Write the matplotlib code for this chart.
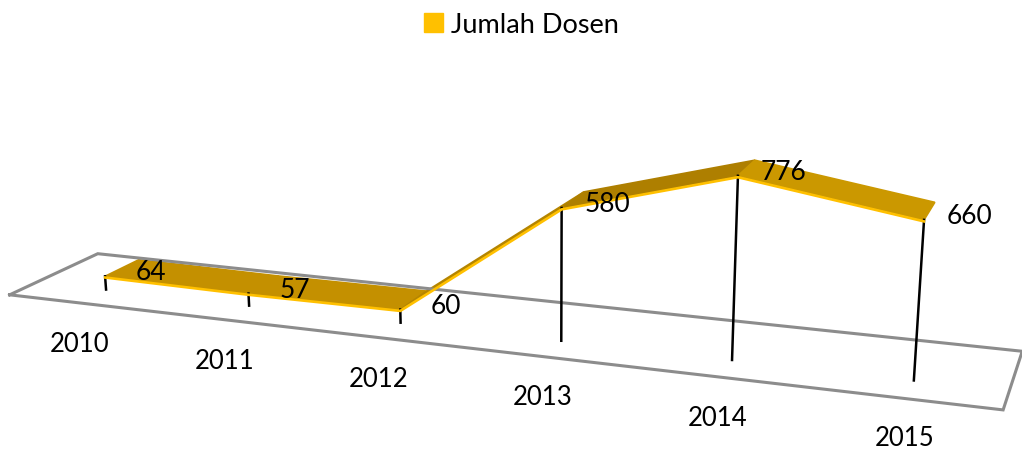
import numpy as np
import matplotlib
matplotlib.use("Agg")
import matplotlib.pyplot as plt
from matplotlib.patches import Patch

years = ['2010', '2011', '2012', '2013', '2014', '2015']
jumlah_dosen = [64, 57, 60, 580, 776, 660]
series_name = 'Jumlah Dosen'

# warna tiap segmen pita (tergantung arah permukaan)
seg_colors = ['#C49000', '#C49000', '#B58500', '#AE7F00', '#CB9800']
front_color = '#FFC000'
floor_color = '#8C8C8C'

plt.rcParams['font.family'] = ['Lato', 'DejaVu Sans']

u_pos = (np.arange(len(years)) + 0.5) / len(years)
d_front = 0.3
d_back = 0.7

# titik acuan kamera: (u, d, nilai) -> piksel pada gambar
cam_world = [(0, 0, 0), (0, 1, 0), (1, 1, 0), (1, 0, 0)]
cam_px = [(10, 295), (98, 255), (1022, 352), (1003, 410)]
base_px = [(106, 292), (248, 307), (400, 324), (562, 342), (732, 362), (914, 382)]
top_px = [(106, 277), (248, 295), (400, 310), (562, 208), (738, 177), (924, 221)]
back_px = [(138, 260), (None, None), (428, 291), (583, 193), (755, 162), (935, 203)]
# posisi teks tahun, piksel
year_label_px = [(80, 345), (225, 362), (379, 380), (543, 398), (718, 419), (905, 439)]
for i, y in enumerate(jumlah_dosen):
    cam_world.append((u_pos[i], d_front, 0))
    cam_px.append(base_px[i])
    cam_world.append((u_pos[i], d_front, y))
    cam_px.append(top_px[i])
    if back_px[i][0] is not None:
        cam_world.append((u_pos[i], d_back, y))
        cam_px.append(back_px[i])

A = []
b = []
for (u, d, v), (px, py) in zip(cam_world, cam_px):
    v = v / 1000
    A.append([u, d, v, 1, 0, 0, 0, 0, -px * u, -px * d, -px * v])
    b.append(px)
    A.append([0, 0, 0, 0, u, d, v, 1, -py * u, -py * d, -py * v])
    b.append(py)
p = np.linalg.lstsq(np.array(A), np.array(b, dtype=float), rcond=None)[0]


def project(u, d, v):
    v = v / 1000
    w = p[8] * u + p[9] * d + p[10] * v + 1
    return (p[0] * u + p[1] * d + p[2] * v + p[3]) / w, (p[4] * u + p[5] * d + p[6] * v + p[7]) / w


fig = plt.figure(figsize=(10.22, 4.52), dpi=100)
ax = fig.add_axes([0, 0, 1, 1])
ax.set_xlim(0, 1022)
ax.set_ylim(452, 0)
ax.axis('off')

# lantai
corners = [project(u, d, 0) for u, d in [(0, 0), (0, 1), (1, 1), (1, 0), (0, 0)]]
ax.plot([c[0] for c in corners], [c[1] for c in corners], color=floor_color, lw=2.2, solid_joinstyle='miter')

# garis jatuh
for u, y in zip(u_pos, jumlah_dosen):
    x0, y0 = project(u, d_front, 0)
    x1, y1 = project(u, d_front, y)
    ax.plot([x0, x1], [y0, y1], color='black', lw=1.8)

# pita
for i in range(len(years) - 1):
    a = project(u_pos[i], d_front, jumlah_dosen[i])
    b2 = project(u_pos[i + 1], d_front, jumlah_dosen[i + 1])
    c = project(u_pos[i + 1], d_back, jumlah_dosen[i + 1])
    e = project(u_pos[i], d_back, jumlah_dosen[i])
    ax.fill([a[0], b2[0], c[0], e[0]], [a[1], b2[1], c[1], e[1]], facecolor=seg_colors[i],
            edgecolor=seg_colors[i], lw=1.2, joinstyle='miter')

# sisi depan pita sedikit di bawah permukaan atas
front = [project(u, d_front, y - 6) for u, y in zip(u_pos, jumlah_dosen)]
ax.plot([f[0] for f in front], [f[1] for f in front], color=front_color, lw=1.9, solid_joinstyle='miter')

# label nilai dan tahun
for (fx, fy), y in zip(front, jumlah_dosen):
    ax.annotate(str(y), (fx, fy), xytext=(33, 4), textcoords='offset points',
                ha='center', va='center', fontsize=19, color='black')

for (lx, ly), yr in zip(year_label_px, years):
    ax.text(lx, ly, yr, ha='center', va='center', fontsize=18.5, color='black')

ax.legend(handles=[Patch(color=front_color, label=series_name)], loc='upper center',
          bbox_to_anchor=(0.5105, 1.025), frameon=False, fontsize=19.5,
          handlelength=0.7, handleheight=0.7, handletextpad=0.3)

fig.savefig('out.png', dpi=100)
